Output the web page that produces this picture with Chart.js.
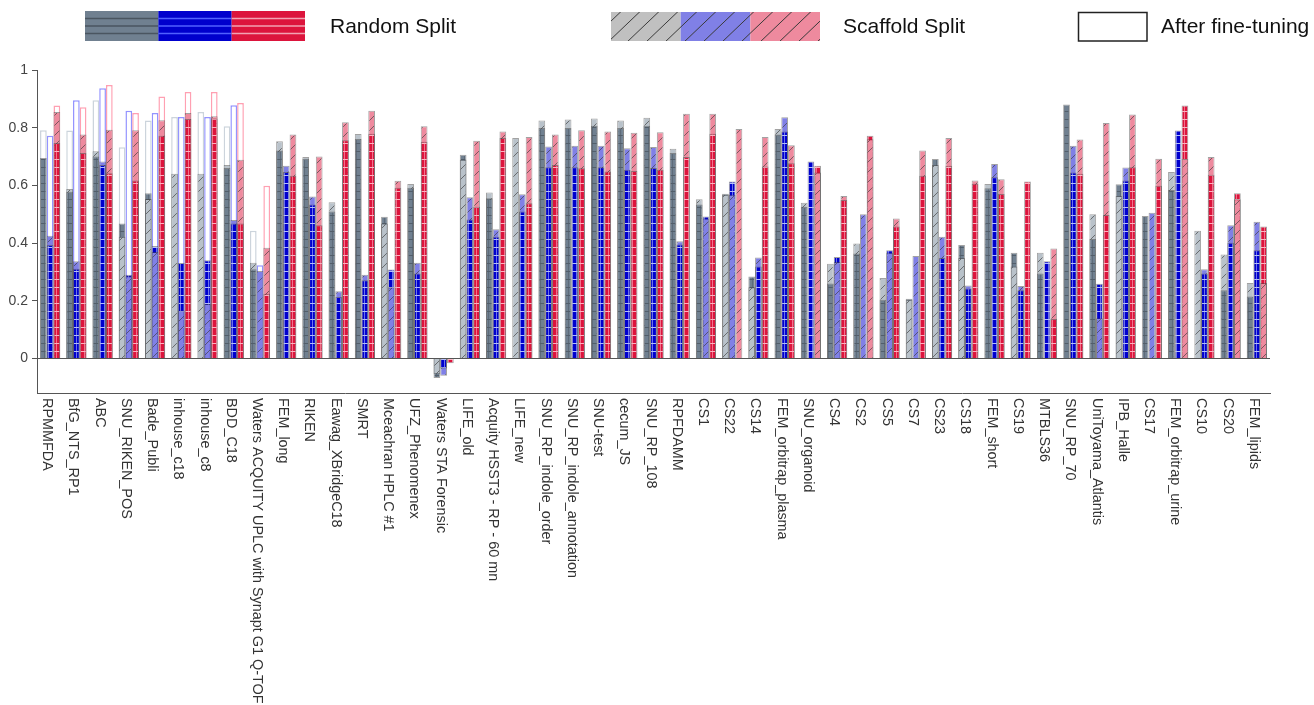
<!DOCTYPE html>
<html>
<head>
<meta charset="utf-8">
<script src="https://cdn.jsdelivr.net/npm/chart.js@4.4.1/dist/chart.umd.min.js"></script>
<style>
  html, body { margin: 0; padding: 0; background: #fff; }
  #wrap { width: 1314px; height: 705px; position: relative; }
</style>
</head>
<body>
<div id="wrap"><canvas id="c"></canvas></div>
<script>
// Datasets (x axis) and y tick marks
const categories = [
  'RPMMFDA', 'BfG_NTS_RP1', 'ABC', 'SNU_RIKEN_POS', 'Bade_Publi', 'inhouse_c18', 'inhouse_c8', 'BDD_C18',
  'Waters ACQUITY UPLC with Synapt G1 Q-TOF', 'FEM_long', 'RIKEN', 'Eawag_XBridgeC18', 'SMRT',
  'Mceachran HPLC #1', 'UFZ_Phenomenex', 'Waters STA Forensic', 'LIFE_old', 'Acquity HSST3 - RP - 60 mn',
  'LIFE_new', 'SNU_RP_indole_order', 'SNU_RP_indole_annotation', 'SNU-test', 'cecum_JS', 'SNU_RP_108',
  'RPFDAMM', 'CS1', 'CS22', 'CS14', 'FEM_orbitrap_plasma', 'SNU_organoid', 'CS4', 'CS2', 'CS5', 'CS7',
  'CS23', 'CS18', 'FEM_short', 'CS19', 'MTBLS36', 'SNU_RP_70', 'UniToyama_Atlantis', 'IPB_Halle', 'CS17',
  'FEM_orbitrap_urine', 'CS10', 'CS20', 'FEM_lipids'
];
const yTicks = [0, 0.2, 0.4, 0.6, 0.8, 1];

// Model 1 (slate)
const randomGray = [0.695, 0.578, 0.700, 0.468, 0.573, null, null, 0.660, 0.309, 0.721, 0.692, 0.509, 0.761,
  0.491, 0.592, -0.068, 0.706, 0.555, null, 0.799, 0.799, 0.807, 0.799, 0.807, 0.712, 0.534, 0.571, 0.284,
  0.776, 0.526, 0.260, 0.364, 0.203, 0.207, 0.691, 0.393, 0.590, 0.366, 0.294, 0.880, 0.414, 0.604, 0.494,
  0.584, null, 0.236, 0.215];
const scaffoldGray = [null, 0.587, 0.718, 0.422, 0.553, 0.640, 0.640, 0.671, 0.332, 0.753, 0.698, 0.541, 0.778,
  0.468, 0.605, -0.055, 0.689, 0.575, 0.764, 0.825, 0.828, 0.832, 0.825, 0.834, 0.727, 0.552, 0.567, 0.247,
  0.795, 0.540, 0.328, 0.398, 0.279, 0.203, 0.671, 0.348, 0.605, 0.319, 0.366, null, 0.500, 0.563, null,
  0.646, 0.443, 0.360, 0.261];
const tunedGray = [0.791, 0.790, 0.895, 0.732, 0.825, 0.837, 0.854, 0.805, 0.443];

// Model 2 (blue)
const randomBlue = [0.393, 0.311, 0.671, 0.290, 0.390, 0.331, 0.340, 0.468, null, 0.646, 0.534, 0.213, 0.271,
  0.308, 0.294, -0.035, 0.482, 0.422, 0.509, 0.663, 0.663, 0.663, 0.654, 0.660, 0.395, 0.492, 0.613, 0.319,
  0.787, 0.683, 0.352, null, 0.375, null, 0.348, 0.242, 0.628, 0.236, 0.337, 0.645, 0.259, 0.617, null,
  0.790, 0.294, 0.401, 0.375];
const scaffoldBlue = [0.425, 0.337, 0.683, 0.285, 0.369, 0.166, 0.189, 0.480, 0.303, 0.668, 0.561, 0.233, 0.290,
  0.247, 0.332, -0.060, 0.559, 0.448, 0.569, 0.735, 0.737, 0.737, 0.729, 0.733, 0.406, 0.485, 0.567, 0.350,
  0.836, null, 0.334, 0.500, 0.366, 0.355, 0.422, 0.253, 0.674, 0.251, null, 0.737, 0.139, 0.662, 0.505,
  null, 0.309, 0.462, 0.474];
const tunedBlue = [0.772, 0.895, 0.937, 0.859, 0.851, 0.837, 0.837, 0.878, 0.323];

// Model 3 (red)
const randomRed = [0.747, 0.712, 0.642, 0.617, 0.772, 0.830, 0.832, 0.468, 0.224, 0.633, 0.462, 0.756, 0.779,
  0.592, 0.751, -0.017, 0.526, 0.764, 0.538, 0.671, 0.659, 0.648, 0.650, 0.654, 0.698, 0.779, null, 0.665,
  0.677, 0.668, 0.549, 0.772, 0.457, 0.633, 0.668, 0.606, 0.570, 0.613, 0.137, 0.640, 0.497, 0.663, 0.599,
  0.877, 0.637, 0.573, 0.457];
const scaffoldRed = [0.854, 0.776, 0.793, 0.791, 0.826, 0.851, 0.840, 0.689, 0.384, 0.776, 0.700, 0.819, 0.859,
  0.616, 0.805, null, 0.755, 0.787, 0.768, 0.776, 0.791, 0.787, 0.782, 0.784, 0.848, 0.848, 0.795, 0.768,
  0.739, 0.645, 0.563, 0.760, 0.485, 0.721, 0.764, 0.617, 0.621, null, 0.381, 0.759, 0.816, 0.846, 0.692,
  0.691, 0.698, 0.552, 0.261];
const tunedRed = [0.877, 0.871, 0.948, 0.851, 0.908, 0.924, 0.924, 0.886, 0.599];

const FONT = '"Liberation Sans", Arial, Helvetica, sans-serif';
const canvas = document.getElementById('c');
const c2d = canvas.getContext('2d');

// Solid "random split" fill: base colour with a fine cell grid
function gridPattern(base, line) {
  const t = document.createElement('canvas');
  t.width = 4; t.height = 8;
  const g = t.getContext('2d');
  g.fillStyle = base; g.fillRect(0, 0, 4, 8);
  g.fillStyle = line; g.fillRect(0, 7, 4, 1);
  g.globalAlpha = 0.6; g.fillRect(0, 0, 1, 7);
  return c2d.createPattern(t, 'repeat');
}
// Light "scaffold split" fill: pale colour with diagonal hatching
function hatchPattern(base) {
  const s = 10;
  const t = document.createElement('canvas');
  t.width = s; t.height = s;
  const g = t.getContext('2d');
  g.fillStyle = base; g.fillRect(0, 0, s, s);
  g.strokeStyle = 'rgba(60,60,60,0.65)'; g.lineWidth = 1;
  g.beginPath();
  g.moveTo(0, s); g.lineTo(s, 0);
  g.moveTo(-2, 2); g.lineTo(2, -2);
  g.moveTo(s - 2, s + 2); g.lineTo(s + 2, s - 2);
  g.stroke();
  return c2d.createPattern(t, 'repeat');
}

const models = [
  { key: 'g', rnd: randomGray, scf: scaffoldGray, ft: tunedGray,
    solid: '#708090', gridLine: '#525e6a', light: '#b9c2ca', edge: '#ccd4dc' },
  { key: 'b', rnd: randomBlue, scf: scaffoldBlue, ft: tunedBlue,
    solid: '#0000cd', gridLine: 'rgba(190,200,255,0.95)', light: '#8080e6', edge: '#9494ff' },
  { key: 'r', rnd: randomRed, scf: scaffoldRed, ft: tunedRed,
    solid: '#dc143c', gridLine: 'rgba(255,185,198,0.95)', light: '#ee8a9e', edge: '#ffa0b2' }
];
models.forEach(m => {
  m.gridPat = gridPattern(m.solid, m.gridLine);
  m.hatchPat = hatchPattern(m.light);
});

// The two splits share one slot: the larger value sits behind, the smaller in front
function layer(m, back) {
  const vals = [], kinds = [];
  m.rnd.forEach((r, i) => {
    const s = m.scf[i];
    let v = null, k = null;
    if (r == null && s == null) {
      // nothing
    } else if (r == null || s == null) {
      if (back) { v = r == null ? s : r; k = r == null ? 's' : 'r'; }
    } else {
      const rBig = Math.abs(r) >= Math.abs(s);
      if (back) { v = rBig ? r : s; k = rBig ? 'r' : 's'; }
      else { v = rBig ? s : r; k = rBig ? 's' : 'r'; }
    }
    vals.push(v); kinds.push(k);
  });
  return { vals, kinds };
}

const barCommon = { barPercentage: 1, categoryPercentage: 0.77, borderSkipped: 'start' };
const datasets = [];
models.forEach(m => {
  const ft = categories.map((_, i) => (i < m.ft.length ? m.ft[i] : null));
  datasets.push(Object.assign({
    label: 'tuned-' + m.key, data: ft, stack: m.key, order: 3,
    backgroundColor: '#ffffff', borderColor: m.edge, borderWidth: 1.5
  }, barCommon));
});
[true, false].forEach(back => {
  models.forEach(m => {
    const L = layer(m, back);
    datasets.push(Object.assign({
      label: (back ? 'back-' : 'front-') + m.key, data: L.vals, stack: m.key, order: back ? 2 : 1,
      backgroundColor: ctx => (L.kinds[ctx.dataIndex] === 'r' ? m.gridPat : m.hatchPat),
      borderColor: 'rgba(70,70,70,0.5)', borderWidth: 1
    }, barCommon));
  });
});

function drawKeys(ctx) {
  // Random split key
  const rx = 85, ry = 11, rw = 220, rh = 30, seg = rw / 3;
  const keyLines = ['#4a5560', '#5060ff', '#f2a2b2'];
  models.forEach((m, k) => {
    const x0 = rx + k * seg;
    ctx.fillStyle = m.solid; ctx.fillRect(x0, ry, seg, rh);
    ctx.strokeStyle = keyLines[k]; ctx.lineWidth = 1.5;
    [7.5, 15, 22.5].forEach(dy => {
      ctx.beginPath(); ctx.moveTo(x0, ry + dy); ctx.lineTo(x0 + seg, ry + dy); ctx.stroke();
    });
  });
  // Scaffold split key
  const sx = 611, sy = 12, sw = 209, sh = 29, sseg = sw / 3;
  const keyFills = ['#c0c0c0', '#8080e6', '#ee8a9e'];
  keyFills.forEach((f, k) => {
    const x0 = sx + k * sseg;
    ctx.fillStyle = f; ctx.fillRect(x0, sy, sseg, sh);
  });
  ctx.save();
  ctx.beginPath(); ctx.rect(sx, sy, sw, sh); ctx.clip();
  ctx.strokeStyle = '#3a3a3a'; ctx.lineWidth = 1;
  for (let x = sx - 80; x < sx + sw + 20; x += 19) {
    ctx.beginPath(); ctx.moveTo(x, sy + sh + 2); ctx.lineTo(x + 64, sy - 30); ctx.stroke();
  }
  ctx.restore();
  // After fine-tuning key
  ctx.fillStyle = '#fff'; ctx.fillRect(1078, 12, 69, 29);
  ctx.strokeStyle = '#222'; ctx.lineWidth = 1.5; ctx.strokeRect(1078.5, 12.5, 68.5, 28.5);

  ctx.fillStyle = '#111';
  ctx.font = '21px ' + FONT;
  ctx.textAlign = 'left'; ctx.textBaseline = 'middle';
  ctx.fillText('Random Split', 330, 27);
  ctx.fillText('Scaffold Split', 843, 27);
  ctx.fillText('After fine-tuning', 1161, 27);
}

const decorations = {
  id: 'decorations',
  afterDraw(chart) {
    const ctx = chart.ctx;
    const xs = chart.scales.x;
    ctx.save();
    ctx.fillStyle = '#333';
    ctx.font = '14.4px ' + FONT;
    ctx.textAlign = 'left';
    ctx.textBaseline = 'middle';
    categories.forEach((name, i) => {
      const x = xs.getPixelForValue(i) - 3;
      ctx.save();
      ctx.translate(x, chart.chartArea.bottom + 5);
      ctx.rotate(Math.PI / 2);
      ctx.fillText(name, 0, 0);
      ctx.restore();
    });
    drawKeys(ctx);
    ctx.restore();
  }
};

new Chart(canvas, {
  type: 'bar',
  data: { labels: categories, datasets },
  plugins: [decorations],
  options: {
    responsive: true,
    maintainAspectRatio: false,
    animation: false,
    devicePixelRatio: 1,
    layout: { padding: { left: 0, top: 70, right: 44, bottom: 0 } },
    plugins: { legend: { display: false }, tooltip: { enabled: false } },
    scales: {
      x: {
        type: 'category',
        offset: true,
        grid: { display: false },
        border: { display: true, color: '#555', width: 1 },
        ticks: { display: false },
        afterFit(scale) { scale.height = 312; }
      },
      y: {
        stacked: false,
        min: -0.12,
        max: 1,
        afterBuildTicks(scale) { scale.ticks = yTicks.map(v => ({ value: v })); },
        afterFit(scale) { scale.width = 37; },
        grid: {
          color: ctx => (ctx.tick && ctx.tick.value === 0 ? '#555' : 'rgba(0,0,0,0)'),
          tickColor: '#555',
          tickLength: 5,
          lineWidth: 1
        },
        border: { display: true, color: '#555', width: 1 },
        ticks: {
          color: '#444',
          font: { size: 14, family: FONT },
          padding: 4,
          callback: v => (v === 0 ? '0' : v === 1 ? '1' : v.toFixed(1))
        }
      }
    }
  }
});
</script>
</body>
</html>
